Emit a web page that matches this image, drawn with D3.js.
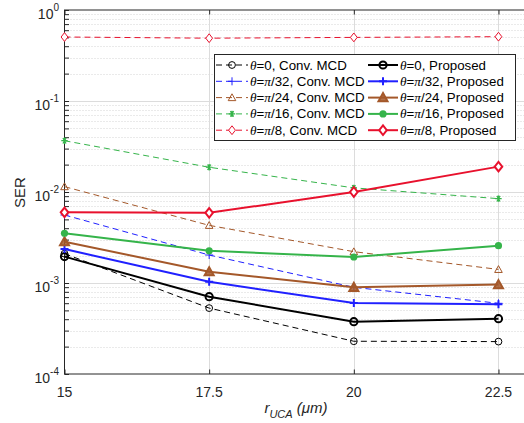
<!DOCTYPE html>
<html>
<head>
<meta charset="utf-8">
<script src="https://cdn.jsdelivr.net/npm/d3@7"></script>
<style>
body { margin: 0; background: #fff; }
svg { display: block; font-family: "Liberation Sans", Arial, sans-serif; }
</style>
</head>
<body>
<script>
var width = 524;
var height = 423;

// x values (r_UCA in um)
var radius = [15, 17.5, 20, 22.5];
var xTicks = [15, 17.5, 20, 22.5];
var yDecades = [1, 0.1, 0.01, 0.001, 0.0001];
var yDecadeExp = ["0", "-1", "-2", "-3", "-4"];

// SER, conventional MCD
var conv0    = [0.0021, 0.00053, 0.000229, 0.000227];
var conv32   = [0.00559, 0.00203, 0.000897, 0.000598];
var conv24   = [0.01145, 0.0043, 0.00221, 0.00141];
var conv16   = [0.0366, 0.0187, 0.0111, 0.00845];
var conv8    = [0.505, 0.49, 0.5, 0.509];

// SER, proposed
var prop0    = [0.00195, 0.000707, 0.000376, 0.000405];
var prop32   = [0.00236, 0.00103, 0.000603, 0.000583];
var prop24   = [0.00284, 0.00133, 0.000896, 0.00096];
var prop16   = [0.00352, 0.00226, 0.00193, 0.00257];
var prop8    = [0.00598, 0.0059, 0.0100, 0.019];

var thetaLabels = ["0", "\u03c0/32", "\u03c0/24", "\u03c0/16", "\u03c0/8"];

var series = [
  {vals: conv0,  theta: 0, kind: "conv", color: "#000000", marker: "circle"},
  {vals: prop0,  theta: 0, kind: "prop", color: "#000000", marker: "circle"},
  {vals: conv32, theta: 1, kind: "conv", color: "#2020ff", marker: "plus"},
  {vals: prop32, theta: 1, kind: "prop", color: "#2020ff", marker: "plus"},
  {vals: conv24, theta: 2, kind: "conv", color: "#a4582a", marker: "tri"},
  {vals: prop24, theta: 2, kind: "prop", color: "#a4582a", marker: "tri"},
  {vals: conv16, theta: 3, kind: "conv", color: "#35b44a", marker: "star"},
  {vals: prop16, theta: 3, kind: "prop", color: "#35b44a", marker: "dot"},
  {vals: conv8,  theta: 4, kind: "conv", color: "#e8112d", marker: "diamond"},
  {vals: prop8,  theta: 4, kind: "prop", color: "#e8112d", marker: "diamond"}
];

var x = d3.scaleLinear().domain([15, 23]).range([64.5, 527.4]);
var y = d3.scaleLog().domain([1e-4, 1]).range([374, 10]);

var svg = d3.select("body").append("svg")
    .attr("width", width)
    .attr("height", height);

// grid
var minorVals = [];
for (var e = -4; e < 0; e++) {
  for (var m = 2; m < 10; m++) minorVals.push(m * Math.pow(10, e));
}
var grid = svg.append("g").attr("class", "grid");
grid.selectAll(".minor").data(minorVals).enter().append("line")
    .attr("x1", x.range()[0]).attr("x2", x.range()[1])
    .attr("y1", function (d) { return Math.round(y(d)) + 0.5; })
    .attr("y2", function (d) { return Math.round(y(d)) + 0.5; })
    .style("stroke", "#d4d4d4").style("stroke-dasharray", "1,2");
grid.selectAll(".major").data(yDecades.slice(1, 4)).enter().append("line")
    .attr("x1", x.range()[0]).attr("x2", x.range()[1])
    .attr("y1", function (d) { return Math.round(y(d)) + 0.5; })
    .attr("y2", function (d) { return Math.round(y(d)) + 0.5; })
    .style("stroke", "#dcdcdc");
grid.selectAll(".vmajor").data(xTicks.slice(1)).enter().append("line")
    .attr("x1", function (d) { return Math.round(x(d)) + 0.5; })
    .attr("x2", function (d) { return Math.round(x(d)) + 0.5; })
    .attr("y1", y.range()[0]).attr("y2", y.range()[1])
    .style("stroke", "#dcdcdc");

// axes (ticks inward, box)
var yAxisL = d3.axisRight(y).tickValues(yDecades.concat(minorVals)).tickSize(4.5).tickFormat("");
svg.append("g").attr("transform", "translate(" + x.range()[0] + ",0)").call(yAxisL)
    .call(function (g) { g.select(".domain").remove(); });
var xAxisB = d3.axisTop(x).tickValues(xTicks).tickSize(4.5).tickFormat("");
svg.append("g").attr("transform", "translate(0," + y.range()[0] + ")").call(xAxisB)
    .call(function (g) { g.select(".domain").remove(); });
var xAxisT = d3.axisBottom(x).tickValues(xTicks).tickSize(4.5).tickFormat("");
svg.append("g").attr("transform", "translate(0," + y.range()[1] + ")").call(xAxisT)
    .call(function (g) { g.select(".domain").remove(); });
svg.selectAll(".tick line").style("stroke", "#262626");

svg.append("rect")
    .attr("x", x.range()[0]).attr("y", y.range()[1])
    .attr("width", x.range()[1] - x.range()[0])
    .attr("height", y.range()[0] - y.range()[1])
    .style("fill", "none").style("stroke", "#262626").style("stroke-width", 1);

// tick labels
svg.selectAll(".xlab").data(xTicks).enter().append("text")
    .attr("x", function (d) { return x(d); })
    .attr("y", 397)
    .attr("text-anchor", "middle")
    .style("font-size", "14px").style("fill", "#262626")
    .text(function (d) { return d; });

var ylab = svg.selectAll(".ylab").data(yDecades).enter().append("text")
    .attr("x", 59)
    .attr("y", function (d) { return y(d) + 8.5; })
    .attr("text-anchor", "end")
    .style("fill", "#262626");
ylab.append("tspan").style("font-size", "14px").text("10");
ylab.append("tspan").style("font-size", "10px").attr("dy", -8)
    .text(function (d, i) { return yDecadeExp[i]; });

// axis titles
svg.append("text")
    .attr("transform", "translate(25,192.5) rotate(-90)")
    .attr("text-anchor", "middle")
    .style("font-size", "15px").style("fill", "#262626")
    .text("SER");

var xt = svg.append("text")
    .attr("x", (x.range()[0] + x.range()[1]) / 2)
    .attr("y", 413)
    .attr("text-anchor", "middle")
    .style("font-size", "15px").style("fill", "#262626").style("font-style", "italic");
xt.append("tspan").text("r");
xt.append("tspan").attr("dy", 5).style("font-size", "11px").text("UCA");
xt.append("tspan").attr("dy", -5).text(" (\u03bcm)");

// markers
function drawMarker(g, type, cx, cy, color, bold) {
  var sw = bold ? 2 : 1;
  if (type == "circle") {
    g.append("circle").attr("cx", cx).attr("cy", cy).attr("r", bold ? 3.6 : 3.4)
      .style("fill", "none").style("stroke", color).style("stroke-width", sw);
  } else if (type == "plus") {
    var s = 4;
    g.append("path").attr("d", "M" + (cx - s) + "," + cy + "H" + (cx + s) + "M" + cx + "," + (cy - s) + "V" + (cy + s))
      .style("fill", "none").style("stroke", color).style("stroke-width", sw);
  } else if (type == "tri") {
    var h = bold ? 4.5 : 3.8;
    g.append("path").attr("d", "M" + cx + "," + (cy - h) + "L" + (cx + h) + "," + (cy + h * 0.8) + "L" + (cx - h) + "," + (cy + h * 0.8) + "Z")
      .style("fill", bold ? color : "none").style("fill-opacity", bold ? 0.85 : 1)
      .style("stroke", color).style("stroke-width", sw);
  } else if (type == "star") {
    var r = 3.2;
    var d = "";
    for (var a = 0; a < 3; a++) {
      var t = a * Math.PI / 3;
      d += "M" + (cx - r * Math.cos(t)) + "," + (cy - r * Math.sin(t)) + "L" + (cx + r * Math.cos(t)) + "," + (cy + r * Math.sin(t));
    }
    d += "M" + cx + "," + (cy - r) + "V" + (cy + r);
    g.append("path").attr("d", d).style("fill", "none").style("stroke", color).style("stroke-width", 1.2);
  } else if (type == "dot") {
    g.append("circle").attr("cx", cx).attr("cy", cy).attr("r", 3.6).style("fill", color);
  } else if (type == "diamond") {
    var w = bold ? 3.8 : 3.4, hh = bold ? 4.8 : 4.4;
    g.append("path").attr("d", "M" + cx + "," + (cy - hh) + "L" + (cx + w) + "," + cy + "L" + cx + "," + (cy + hh) + "L" + (cx - w) + "," + cy + "Z")
      .style("fill", "#fff").style("stroke", color).style("stroke-width", sw);
  }
}

var line = d3.line()
    .x(function (d, i) { return x(radius[i]); })
    .y(function (d) { return y(d); });

var plot = svg.append("g").attr("class", "plot");
series.forEach(function (s) {
  var bold = s.kind == "prop";
  var g = plot.append("g");
  g.append("path").datum(s.vals)
    .attr("d", line)
    .style("fill", "none")
    .style("stroke", s.color)
    .style("stroke-width", bold ? 2 : 1)
    .style("stroke-dasharray", bold ? null : "6,4");
  s.vals.forEach(function (v, i) {
    drawMarker(g, s.marker, x(radius[i]), y(v), s.color, bold);
  });
});

// legend
var legend = svg.append("g").attr("class", "legend");
legend.append("rect")
    .attr("x", 214.5).attr("y", 54.5).attr("width", 301).attr("height", 86)
    .style("fill", "#fff").style("stroke", "#262626").style("stroke-width", 1);

series.forEach(function (s) {
  var bold = s.kind == "prop";
  var col = bold ? {x0: 368, x1: 398, tx: 400} : {x0: 216, x1: 248, tx: 250};
  var ly = 65 + s.theta * 16.3;
  var g = legend.append("g");
  g.append("line")
    .attr("x1", col.x0).attr("x2", col.x1).attr("y1", ly).attr("y2", ly)
    .style("stroke", s.color).style("stroke-width", bold ? 2 : 1)
    .style("stroke-dasharray", bold ? null : "6,4");
  drawMarker(g, s.marker, (col.x0 + col.x1) / 2, ly, s.color, bold);
  var t = g.append("text").attr("x", col.tx).attr("y", ly + 4.5)
    .style("font-size", "13.3px").style("fill", "#000");
  t.append("tspan").style("font-family", "'Liberation Serif', serif").style("font-style", "italic").text("\u03b8");
  t.append("tspan").text("=");
  var lab = thetaLabels[s.theta];
  if (lab.charAt(0) == "\u03c0") {
    t.append("tspan").style("font-family", "'Liberation Serif', serif").style("font-style", "italic").text("\u03c0");
    lab = lab.substring(1);
  }
  t.append("tspan").text(lab + (bold ? ", Proposed" : ", Conv. MCD"));
});
</script>
</body>
</html>
